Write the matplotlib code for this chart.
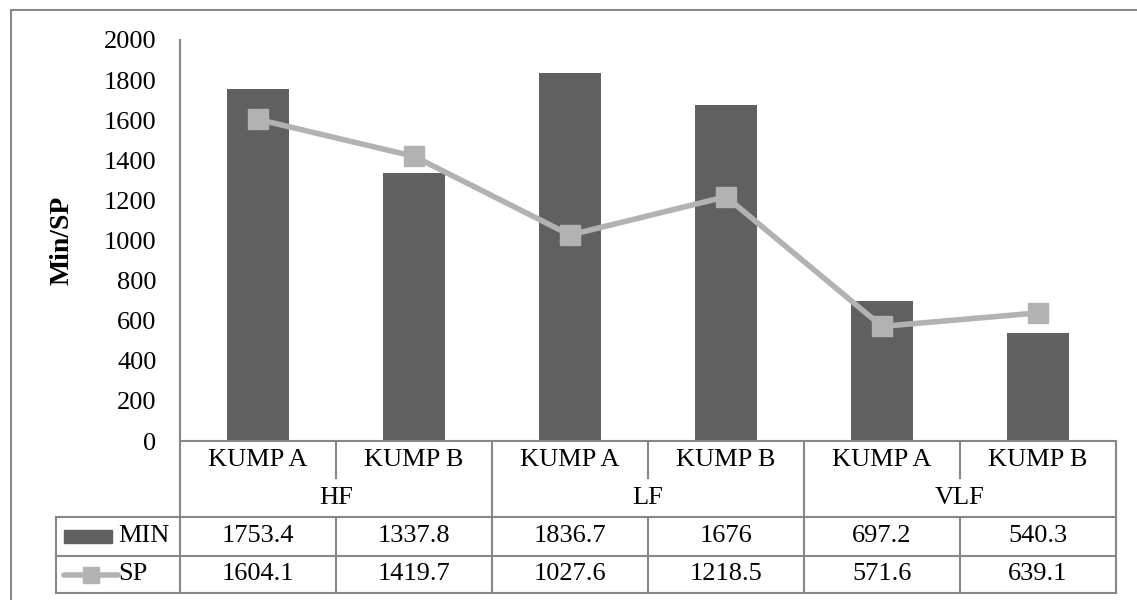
import numpy as np
import matplotlib.pyplot as plt
from matplotlib.patches import Rectangle
from matplotlib.lines import Line2D

plt.rcParams['font.family'] = ['Liberation Serif', 'DejaVu Serif']

# data
kategoriler = ['KUMP A', 'KUMP B', 'KUMP A', 'KUMP B', 'KUMP A', 'KUMP B']
gruplar = ['HF', 'LF', 'VLF']
min_vals = [1753.4, 1337.8, 1836.7, 1676, 697.2, 540.3]
sp_vals = [1604.1, 1419.7, 1027.6, 1218.5, 571.6, 639.1]

W, H = 1137, 600
bar_color = '#606060'
line_color = '#B2B2B2'
grid_color = '#878787'
fs = 19

fig = plt.figure(figsize=(W / 100, H / 100), dpi=100)

def fx(px):
    return px / W

def fy(py):
    return 1 - py / H

# outer frame
fig.patches.append(Rectangle((fx(11), fy(640)), 2, fy(10) - fy(640),
                             transform=fig.transFigure, fill=False,
                             edgecolor=grid_color, lw=1.5))

# main plot
ax = fig.add_axes([fx(180), fy(441), fx(1116) - fx(180), fy(40) - fy(441)])
x = np.arange(len(kategoriler))
ax.bar(x, min_vals, width=0.4, color=bar_color, zorder=2)
ax.plot(x, sp_vals, color=line_color, lw=4, marker='s', ms=14, zorder=3)
ax.set_xlim(-0.5, len(kategoriler) - 0.5)
ax.set_ylim(0, 2000)
ax.set_yticks(np.arange(0, 2001, 200))
ax.tick_params(axis='y', length=0, pad=17, labelsize=fs)
ax.set_xticks([])
for s in ['top', 'right', 'bottom']:
    ax.spines[s].set_visible(False)
ax.spines['left'].set_color(grid_color)
ax.spines['left'].set_linewidth(1.5)
fig.text(fx(62), fy(240), 'Min/SP', rotation=90, fontsize=fs + 1, fontweight='bold',
         ha='center', va='center')

# data table (x in category units, y in pixels)
left_px = 56
col_w = (1116 - 180) / len(kategoriler)
tx0 = -0.5 - (180 - left_px) / col_w
tab = fig.add_axes([fx(left_px), fy(593), fx(1116) - fx(left_px), fy(441) - fy(593)])
tab.set_xlim(tx0, len(kategoriler) - 0.5)
tab.set_ylim(593, 441)
tab.axis('off')

y_cat, y_grp, y_min, y_sp, y_bot = 441, 478, 517, 556, 593
n = len(kategoriler)

def hline(y, x0, x1):
    tab.add_line(Line2D([x0, x1], [y, y], color=grid_color, lw=1.5, clip_on=False))

def vline(xv, y0, y1):
    tab.add_line(Line2D([xv, xv], [y0, y1], color=grid_color, lw=1.5, clip_on=False))

hline(y_cat, -0.5, n - 0.5)
hline(y_min, tx0, n - 0.5)
hline(y_sp, tx0, n - 0.5)
hline(y_bot, tx0, n - 0.5)
for i in range(n + 1):
    xv = i - 0.5
    if i % 2 == 0:
        vline(xv, y_cat, y_bot)
    else:
        vline(xv, y_cat, y_grp)
        vline(xv, y_min, y_bot)
vline(tx0, y_min, y_bot)

for i, k in enumerate(kategoriler):
    tab.text(i, (y_cat + y_grp) / 2, k, ha='center', va='center', fontsize=fs)
    tab.text(i, (y_min + y_sp) / 2, f'{min_vals[i]:g}', ha='center', va='center', fontsize=fs)
    tab.text(i, (y_sp + y_bot) / 2, f'{sp_vals[i]:g}', ha='center', va='center', fontsize=fs)
for j, g in enumerate(gruplar):
    tab.text(2 * j + 0.5, (y_grp + y_min) / 2, g, ha='center', va='center', fontsize=fs)

# legend keys inside the table
kx0 = tx0 + 8 / col_w
tab.add_patch(Rectangle((kx0, 530), 48 / col_w, 13, color=bar_color, clip_on=False))
tab.text(tx0 + 62 / col_w, (y_min + y_sp) / 2, 'MIN', ha='left', va='center', fontsize=fs)
tab.plot([kx0, kx0 + 54 / col_w], [(y_sp + y_bot) / 2] * 2, color=line_color, lw=4,
         solid_capstyle='round', clip_on=False)
tab.plot([kx0 + 27 / col_w], [(y_sp + y_bot) / 2], marker='s', ms=12, color=line_color,
         clip_on=False)
tab.text(tx0 + 62 / col_w, (y_sp + y_bot) / 2, 'SP', ha='left', va='center', fontsize=fs)

fig.savefig('out.png', dpi=100)
